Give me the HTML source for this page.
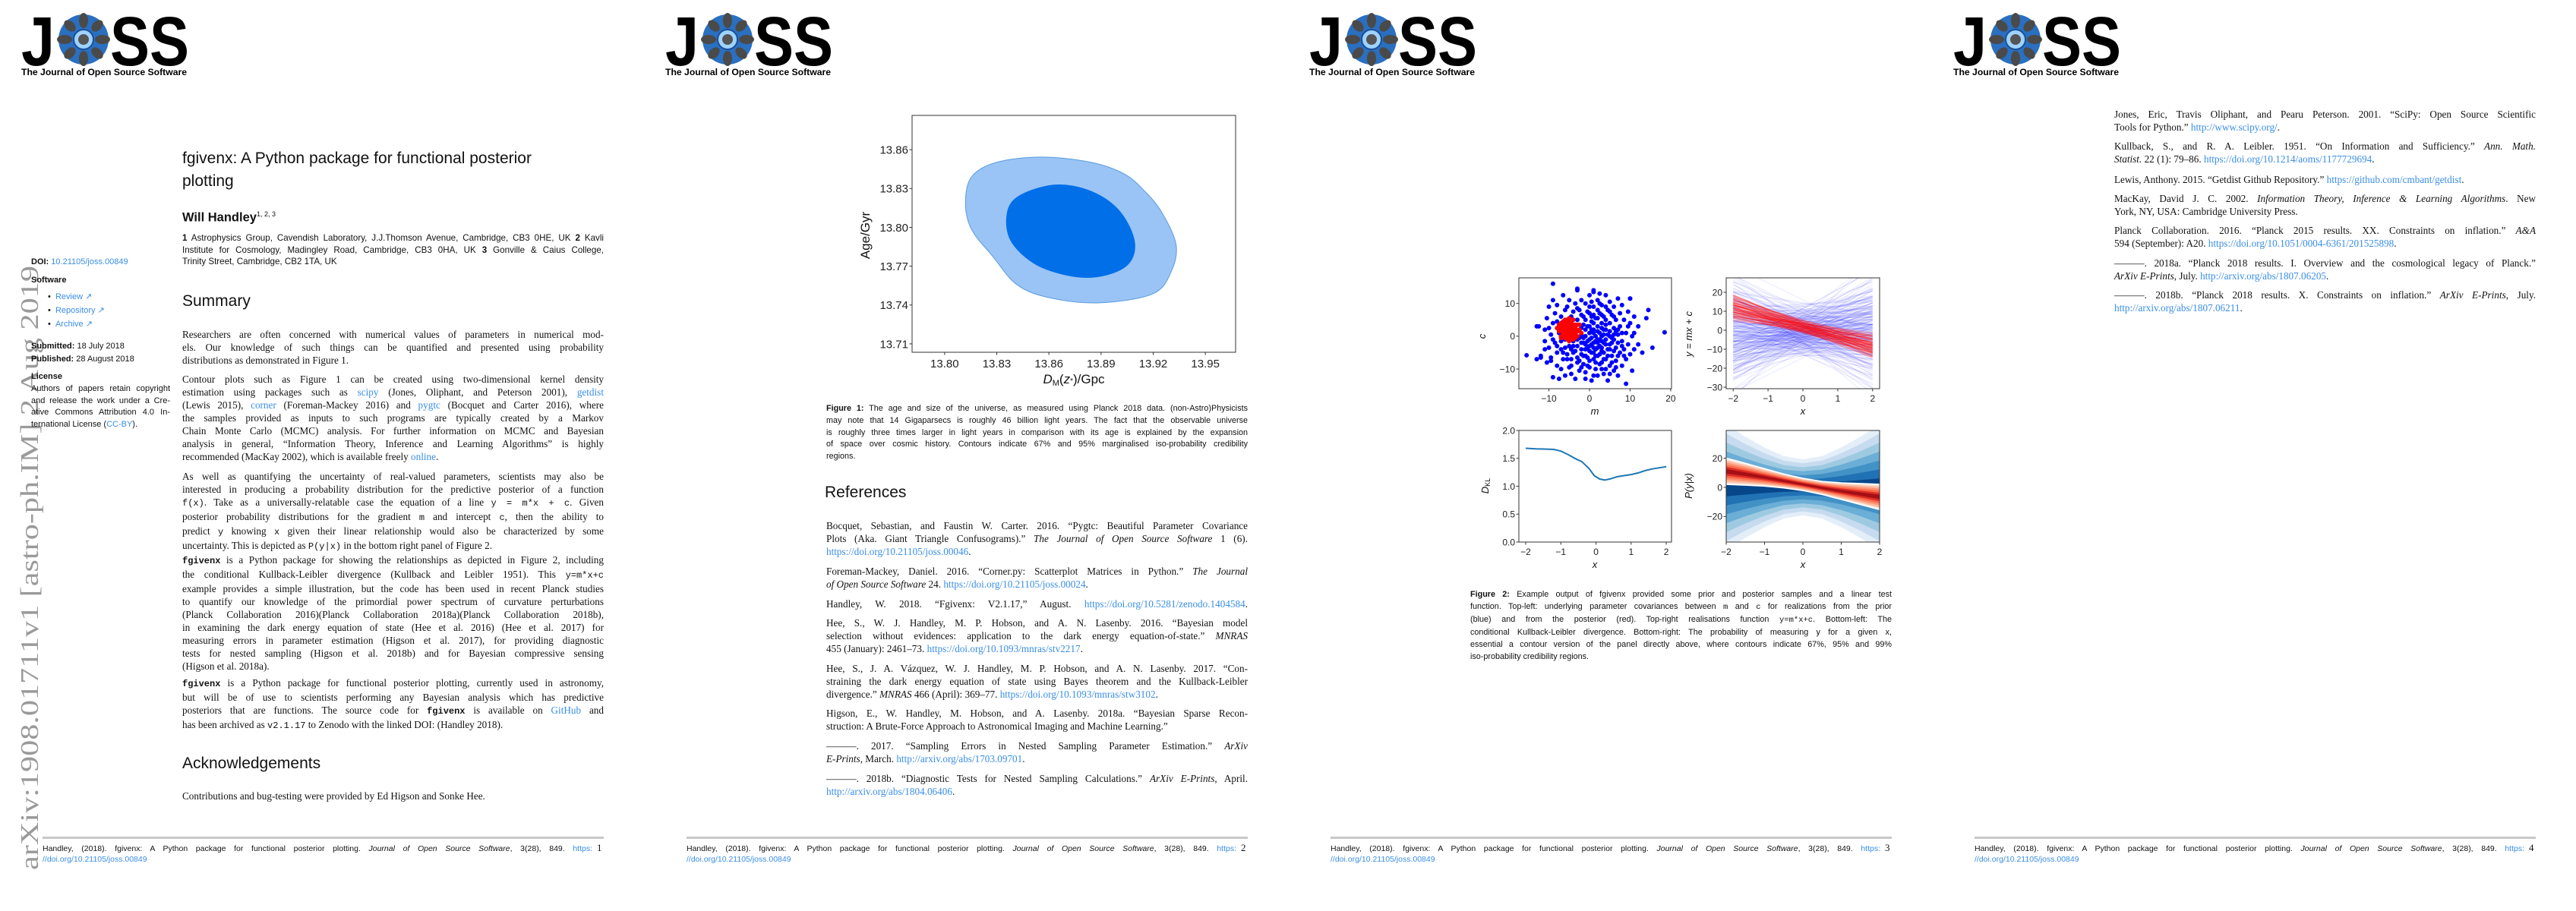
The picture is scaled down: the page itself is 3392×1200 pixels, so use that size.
<!DOCTYPE html>
<html><head><meta charset="utf-8">
<style>
*{margin:0;padding:0;box-sizing:border-box}
html,body{width:3392px;height:1200px;background:#fff;overflow:hidden}
.page{position:absolute;top:0;width:848px;height:1200px;background:#fff}
.abs{position:absolute}
.p{position:absolute;left:240px;width:555px;font:13.2px/17px "Liberation Serif",serif;color:#111}
.ln{text-align:justify;text-align-last:justify;line-height:inherit}
.ln.l{text-align-last:left}
.cap{position:absolute;left:240px;width:555px;font:10.8px/15.8px "Liberation Sans",sans-serif;color:#111}
.sb{position:absolute;left:41px;font:11px/15.5px "Liberation Sans",sans-serif;color:#111}
a,.lk{color:#3a8ee6;text-decoration:none}
.tt{font-family:"Liberation Mono",monospace;font-size:12px}
.h{position:absolute;left:240px;font:21px "Liberation Sans",sans-serif;color:#111}
.foot{position:absolute;left:56px;width:724px;font:10.5px/14px "Liberation Sans",sans-serif;color:#111}
.pn{position:absolute;left:786px;font:13px "Liberation Serif",serif;color:#111}
svg text{font-family:"Liberation Sans",sans-serif}
</style></head><body>

<!-- ================= PAGE 1 ================= -->
<div class="page" style="left:0">
<svg class="abs" style="left:0;top:0" width="848" height="1200">
  <g>
    <text x="28" y="86" font-size="92" font-weight="bold" textLength="44" lengthAdjust="spacingAndGlyphs">J</text>
    <g>
      <circle cx="110" cy="52" r="33" fill="#2a6fc0"/>
      <g fill="#4a4a4a"><ellipse cx="110" cy="27" rx="6" ry="10"/><ellipse cx="110" cy="77" rx="6" ry="10"/><ellipse cx="85" cy="52" rx="10" ry="6"/><ellipse cx="135" cy="52" rx="10" ry="6"/><ellipse cx="92" cy="34" rx="6" ry="9" transform="rotate(-45 92 34)"/><ellipse cx="128" cy="34" rx="6" ry="9" transform="rotate(45 128 34)"/><ellipse cx="92" cy="70" rx="6" ry="9" transform="rotate(45 92 70)"/><ellipse cx="128" cy="70" rx="6" ry="9" transform="rotate(-45 128 70)"/></g>
      <circle cx="110" cy="52" r="13" fill="#9fd3ff" stroke="#1a4f9a" stroke-width="2"/>
      <circle cx="110" cy="52" r="7" fill="#555"/>
    </g>
    <text x="145" y="86" font-size="92" font-weight="bold" textLength="104" lengthAdjust="spacingAndGlyphs">SS</text>
    <text x="28" y="99" font-size="11.5" font-weight="bold" textLength="218" lengthAdjust="spacingAndGlyphs">The Journal of Open Source Software</text>
  </g>
  <text transform="translate(50,1146) rotate(-90)" style="font-family:'Liberation Serif',serif" font-size="34" fill="#9a9a9a" textLength="796" lengthAdjust="spacingAndGlyphs">arXiv:1908.01711v1  [astro-ph.IM]  2 Aug 2019</text>
  <rect x="56" y="1102" width="739" height="3" fill="#c8c8c8"/>
</svg>

<div class="abs" style="left:240px;top:194px;font:21px/30px 'Liberation Sans',sans-serif;color:#111">fgivenx: A Python package for functional posterior<br>plotting</div>
<div class="abs" style="left:240px;top:271px;font:bold 16.5px/22px 'Liberation Sans',sans-serif;color:#111">Will Handley<sup style="font-size:9px;font-weight:normal">1, 2, 3</sup></div>
<div class="cap" style="top:306px;font-size:11.6px;line-height:15.5px">
<div class="ln"><b>1</b> Astrophysics Group, Cavendish Laboratory, J.J.Thomson Avenue, Cambridge, CB3 0HE, UK <b>2</b> Kavli</div>
<div class="ln">Institute for Cosmology, Madingley Road, Cambridge, CB3 0HA, UK <b>3</b> Gonville &amp; Caius College,</div>
<div class="ln l">Trinity Street, Cambridge, CB2 1TA, UK</div>
</div>

<div class="sb" style="top:338px"><b>DOI:</b> <a href="#">10.21105/joss.00849</a></div>
<div class="sb" style="top:362px;font-weight:bold">Software</div>
<div class="sb" style="left:63px;top:384px">•&nbsp;&nbsp;<a href="#">Review ↗</a></div>
<div class="sb" style="left:63px;top:402px">•&nbsp;&nbsp;<a href="#">Repository ↗</a></div>
<div class="sb" style="left:63px;top:420px">•&nbsp;&nbsp;<a href="#">Archive ↗</a></div>
<div class="sb" style="top:449px"><b>Submitted:</b> 18 July 2018</div>
<div class="sb" style="top:466px"><b>Published:</b> 28 August 2018</div>
<div class="sb" style="top:489px;font-weight:bold">License</div>
<div class="sb" style="top:505px;width:183px">
<div class="ln">Authors of papers retain copyright</div>
<div class="ln">and release the work under a Cre-</div>
<div class="ln">ative Commons Attribution 4.0 In-</div>
<div class="ln l">ternational License (<a href="#">CC-BY</a>).</div>
</div>

<div class="h" style="top:385px">Summary</div>

<div class="p" style="top:432px">
<div class="ln">Researchers are often concerned with numerical values of parameters in numerical mod-</div>
<div class="ln">els. Our knowledge of such things can be quantified and presented using probability</div>
<div class="ln l">distributions as demonstrated in Figure 1.</div>
</div>
<div class="p" style="top:491px">
<div class="ln">Contour plots such as Figure 1 can be created using two-dimensional kernel density</div>
<div class="ln">estimation using packages such as <a href="#">scipy</a> (Jones, Oliphant, and Peterson 2001), <a href="#">getdist</a></div>
<div class="ln">(Lewis 2015), <a href="#">corner</a> (Foreman-Mackey 2016) and <a href="#">pygtc</a> (Bocquet and Carter 2016), where</div>
<div class="ln">the samples provided as inputs to such programs are typically created by a Markov</div>
<div class="ln">Chain Monte Carlo (MCMC) analysis. For further information on MCMC and Bayesian</div>
<div class="ln">analysis in general, “Information Theory, Inference and Learning Algorithms” is highly</div>
<div class="ln l">recommended (MacKay 2002), which is available freely <a href="#">online</a>.</div>
</div>
<div class="p" style="top:619px">
<div class="ln">As well as quantifying the uncertainty of real-valued parameters, scientists may also be</div>
<div class="ln">interested in producing a probability distribution for the predictive posterior of a function</div>
<div class="ln"><span class="tt">f(x)</span>. Take as a universally-relatable case the equation of a line <span class="tt">y = m*x + c</span>. Given</div>
<div class="ln">posterior probability distributions for the gradient <span class="tt">m</span> and intercept <span class="tt">c</span>, then the ability to</div>
<div class="ln">predict <span class="tt">y</span> knowing <span class="tt">x</span> given their linear relationship would also be characterized by some</div>
<div class="ln l">uncertainty. This is depicted as <span class="tt">P(y|x)</span> in the bottom right panel of Figure 2.</div>
</div>
<div class="p" style="top:729px">
<div class="ln"><b class="tt">fgivenx</b> is a Python package for showing the relationships as depicted in Figure 2, including</div>
<div class="ln">the conditional Kullback-Leibler divergence (Kullback and Leibler 1951). This <span class="tt">y=m*x+c</span></div>
<div class="ln">example provides a simple illustration, but the code has been used in recent Planck studies</div>
<div class="ln">to quantify our knowledge of the primordial power spectrum of curvature perturbations</div>
<div class="ln">(Planck Collaboration 2016)(Planck Collaboration 2018a)(Planck Collaboration 2018b),</div>
<div class="ln">in examining the dark energy equation of state (Hee et al. 2016) (Hee et al. 2017) for</div>
<div class="ln">measuring errors in parameter estimation (Higson et al. 2017), for providing diagnostic</div>
<div class="ln">tests for nested sampling (Higson et al. 2018b) and for Bayesian compressive sensing</div>
<div class="ln l">(Higson et al. 2018a).</div>
</div>
<div class="p" style="top:891px">
<div class="ln"><b class="tt">fgivenx</b> is a Python package for functional posterior plotting, currently used in astronomy,</div>
<div class="ln">but will be of use to scientists performing any Bayesian analysis which has predictive</div>
<div class="ln">posteriors that are functions. The source code for <b class="tt">fgivenx</b> is available on <a href="#">GitHub</a> and</div>
<div class="ln l">has been archived as <span class="tt">v2.1.17</span> to Zenodo with the linked DOI: (Handley 2018).</div>
</div>

<div class="h" style="top:994px">Acknowledgements</div>
<div class="p" style="top:1040px"><div class="ln l">Contributions and bug-testing were provided by Ed Higson and Sonke Hee.</div></div>

<div class="foot" style="top:1111px"><div class="ln">Handley, (2018). fgivenx: A Python package for functional posterior plotting. <i>Journal of Open Source Software</i>, 3(28), 849. <a href="#">https:</a></div><div class="ln l"><a href="#">//doi.org/10.21105/joss.00849</a></div></div>
<div class="pn" style="top:1109px">1</div>
</div>

<!-- ================= PAGE 2 ================= -->
<div class="page" style="left:848px">
<svg class="abs" style="left:0;top:0" width="848" height="1200">
  <g>
    <text x="28" y="86" font-size="92" font-weight="bold" textLength="44" lengthAdjust="spacingAndGlyphs">J</text>
    <g>
      <circle cx="110" cy="52" r="33" fill="#2a6fc0"/>
      <g fill="#4a4a4a"><ellipse cx="110" cy="27" rx="6" ry="10"/><ellipse cx="110" cy="77" rx="6" ry="10"/><ellipse cx="85" cy="52" rx="10" ry="6"/><ellipse cx="135" cy="52" rx="10" ry="6"/><ellipse cx="92" cy="34" rx="6" ry="9" transform="rotate(-45 92 34)"/><ellipse cx="128" cy="34" rx="6" ry="9" transform="rotate(45 128 34)"/><ellipse cx="92" cy="70" rx="6" ry="9" transform="rotate(45 92 70)"/><ellipse cx="128" cy="70" rx="6" ry="9" transform="rotate(-45 128 70)"/></g>
      <circle cx="110" cy="52" r="13" fill="#9fd3ff" stroke="#1a4f9a" stroke-width="2"/>
      <circle cx="110" cy="52" r="7" fill="#555"/>
    </g>
    <text x="145" y="86" font-size="92" font-weight="bold" textLength="104" lengthAdjust="spacingAndGlyphs">SS</text>
    <text x="28" y="99" font-size="11.5" font-weight="bold" textLength="218" lengthAdjust="spacingAndGlyphs">The Journal of Open Source Software</text>
  </g>
  <g id="fig1"></g>
  <rect x="56" y="1102" width="739" height="3" fill="#c8c8c8"/>
</svg>
<div class="cap" style="top:531px">
<div class="ln"><b>Figure 1:</b> The age and size of the universe, as measured using Planck 2018 data. (non-Astro)Physicists</div>
<div class="ln">may note that 14 Gigaparsecs is roughly 46 billion light years. The fact that the observable universe</div>
<div class="ln">is roughly three times larger in light years in comparison with its age is explained by the expansion</div>
<div class="ln">of space over cosmic history. Contours indicate 67% and 95% marginalised iso-probability credibility</div>
<div class="ln l">regions.</div>
</div>
<div class="h" style="top:637px;left:238px">References</div>
<div class="p" style="top:684px">
<div class="ln">Bocquet, Sebastian, and Faustin W. Carter. 2016. “Pygtc: Beautiful Parameter Covariance</div>
<div class="ln">Plots (Aka. Giant Triangle Confusograms).” <i>The Journal of Open Source Software</i> 1 (6).</div>
<div class="ln l"><a href="#">https://doi.org/10.21105/joss.00046</a>.</div></div>
<div class="p" style="top:744px">
<div class="ln">Foreman-Mackey, Daniel. 2016. “Corner.py: Scatterplot Matrices in Python.” <i>The Journal</i></div>
<div class="ln l"><i>of Open Source Software</i> 24. <a href="#">https://doi.org/10.21105/joss.00024</a>.</div></div>
<div class="p" style="top:787px">
<div class="ln">Handley, W. 2018. “Fgivenx: V2.1.17,” August. <a href="#">https://doi.org/10.5281/zenodo.1404584</a>.</div></div>
<div class="p" style="top:812px">
<div class="ln">Hee, S., W. J. Handley, M. P. Hobson, and A. N. Lasenby. 2016. “Bayesian model</div>
<div class="ln">selection without evidences: application to the dark energy equation-of-state.” <i>MNRAS</i></div>
<div class="ln l">455 (January): 2461–73. <a href="#">https://doi.org/10.1093/mnras/stv2217</a>.</div></div>
<div class="p" style="top:872px">
<div class="ln">Hee, S., J. A. Vázquez, W. J. Handley, M. P. Hobson, and A. N. Lasenby. 2017. “Con-</div>
<div class="ln">straining the dark energy equation of state using Bayes theorem and the Kullback-Leibler</div>
<div class="ln l">divergence.” <i>MNRAS</i> 466 (April): 369–77. <a href="#">https://doi.org/10.1093/mnras/stw3102</a>.</div></div>
<div class="p" style="top:931px">
<div class="ln">Higson, E., W. Handley, M. Hobson, and A. Lasenby. 2018a. “Bayesian Sparse Recon-</div>
<div class="ln l">struction: A Brute-Force Approach to Astronomical Imaging and Machine Learning.”</div></div>
<div class="p" style="top:974px">
<div class="ln">———. 2017. “Sampling Errors in Nested Sampling Parameter Estimation.” <i>ArXiv</i></div>
<div class="ln l"><i>E-Prints</i>, March. <a href="#">http://arxiv.org/abs/1703.09701</a>.</div></div>
<div class="p" style="top:1017px">
<div class="ln">———. 2018b. “Diagnostic Tests for Nested Sampling Calculations.” <i>ArXiv E-Prints</i>, April.</div>
<div class="ln l"><a href="#">http://arxiv.org/abs/1804.06406</a>.</div></div>
<div class="foot" style="top:1111px"><div class="ln">Handley, (2018). fgivenx: A Python package for functional posterior plotting. <i>Journal of Open Source Software</i>, 3(28), 849. <a href="#">https:</a></div><div class="ln l"><a href="#">//doi.org/10.21105/joss.00849</a></div></div>
<div class="pn" style="top:1109px">2</div>
</div>

<!-- ================= PAGE 3 ================= -->
<div class="page" style="left:1696px">
<svg class="abs" style="left:0;top:0" width="848" height="1200">
  <g>
    <text x="28" y="86" font-size="92" font-weight="bold" textLength="44" lengthAdjust="spacingAndGlyphs">J</text>
    <g>
      <circle cx="110" cy="52" r="33" fill="#2a6fc0"/>
      <g fill="#4a4a4a"><ellipse cx="110" cy="27" rx="6" ry="10"/><ellipse cx="110" cy="77" rx="6" ry="10"/><ellipse cx="85" cy="52" rx="10" ry="6"/><ellipse cx="135" cy="52" rx="10" ry="6"/><ellipse cx="92" cy="34" rx="6" ry="9" transform="rotate(-45 92 34)"/><ellipse cx="128" cy="34" rx="6" ry="9" transform="rotate(45 128 34)"/><ellipse cx="92" cy="70" rx="6" ry="9" transform="rotate(45 92 70)"/><ellipse cx="128" cy="70" rx="6" ry="9" transform="rotate(-45 128 70)"/></g>
      <circle cx="110" cy="52" r="13" fill="#9fd3ff" stroke="#1a4f9a" stroke-width="2"/>
      <circle cx="110" cy="52" r="7" fill="#555"/>
    </g>
    <text x="145" y="86" font-size="92" font-weight="bold" textLength="104" lengthAdjust="spacingAndGlyphs">SS</text>
    <text x="28" y="99" font-size="11.5" font-weight="bold" textLength="218" lengthAdjust="spacingAndGlyphs">The Journal of Open Source Software</text>
  </g>
  <defs>
    <clipPath id="cTL"><rect x="304" y="366" width="201" height="146"/></clipPath>
    <clipPath id="cTR"><rect x="577" y="366" width="202" height="146"/></clipPath>
    <clipPath id="cBL"><rect x="304" y="567" width="201" height="147"/></clipPath>
    <clipPath id="cBR"><rect x="577" y="567" width="202" height="147"/></clipPath>
  </defs>
  <g id="fig2"></g>
  <rect x="56" y="1102" width="739" height="3" fill="#c8c8c8"/>
</svg>
<div class="cap" style="top:775px;line-height:16px">
<div class="ln"><b>Figure 2:</b> Example output of fgivenx provided some prior and posterior samples and a linear test</div>
<div class="ln">function. Top-left: underlying parameter covariances between <span class="tt" style="font-size:10.5px">m</span> and <span class="tt" style="font-size:10.5px">c</span> for realizations from the prior</div>
<div class="ln">(blue) and from the posterior (red). Top-right realisations function <span class="tt" style="font-size:10.5px">y=m*x+c</span>. Bottom-left: The</div>
<div class="ln">conditional Kullback-Leibler divergence. Bottom-right: The probability of measuring y for a given x,</div>
<div class="ln">essential a contour version of the panel directly above, where contours indicate 67%, 95% and 99%</div>
<div class="ln l">iso-probability credibility regions.</div>
</div>
<div class="foot" style="top:1111px"><div class="ln">Handley, (2018). fgivenx: A Python package for functional posterior plotting. <i>Journal of Open Source Software</i>, 3(28), 849. <a href="#">https:</a></div><div class="ln l"><a href="#">//doi.org/10.21105/joss.00849</a></div></div>
<div class="pn" style="top:1109px">3</div>
</div>

<!-- ================= PAGE 4 ================= -->
<div class="page" style="left:2544px">
<svg class="abs" style="left:0;top:0" width="848" height="1200">
  <g>
    <text x="28" y="86" font-size="92" font-weight="bold" textLength="44" lengthAdjust="spacingAndGlyphs">J</text>
    <g>
      <circle cx="110" cy="52" r="33" fill="#2a6fc0"/>
      <g fill="#4a4a4a"><ellipse cx="110" cy="27" rx="6" ry="10"/><ellipse cx="110" cy="77" rx="6" ry="10"/><ellipse cx="85" cy="52" rx="10" ry="6"/><ellipse cx="135" cy="52" rx="10" ry="6"/><ellipse cx="92" cy="34" rx="6" ry="9" transform="rotate(-45 92 34)"/><ellipse cx="128" cy="34" rx="6" ry="9" transform="rotate(45 128 34)"/><ellipse cx="92" cy="70" rx="6" ry="9" transform="rotate(45 92 70)"/><ellipse cx="128" cy="70" rx="6" ry="9" transform="rotate(-45 128 70)"/></g>
      <circle cx="110" cy="52" r="13" fill="#9fd3ff" stroke="#1a4f9a" stroke-width="2"/>
      <circle cx="110" cy="52" r="7" fill="#555"/>
    </g>
    <text x="145" y="86" font-size="92" font-weight="bold" textLength="104" lengthAdjust="spacingAndGlyphs">SS</text>
    <text x="28" y="99" font-size="11.5" font-weight="bold" textLength="218" lengthAdjust="spacingAndGlyphs">The Journal of Open Source Software</text>
  </g>
  <rect x="56" y="1102" width="739" height="3" fill="#c8c8c8"/>
</svg>
<div class="p" style="top:142px">
<div class="ln">Jones, Eric, Travis Oliphant, and Pearu Peterson. 2001. “SciPy: Open Source Scientific</div>
<div class="ln l">Tools for Python.” <a href="#">http://www.scipy.org/</a>.</div></div>
<div class="p" style="top:184px">
<div class="ln">Kullback, S., and R. A. Leibler. 1951. “On Information and Sufficiency.” <i>Ann. Math.</i></div>
<div class="ln l"><i>Statist.</i> 22 (1): 79–86. <a href="#">https://doi.org/10.1214/aoms/1177729694</a>.</div></div>
<div class="p" style="top:228px">
<div class="ln l">Lewis, Anthony. 2015. “Getdist Github Repository.” <a href="#">https://github.com/cmbant/getdist</a>.</div></div>
<div class="p" style="top:253px">
<div class="ln">MacKay, David J. C. 2002. <i>Information Theory, Inference &amp; Learning Algorithms</i>. New</div>
<div class="ln l">York, NY, USA: Cambridge University Press.</div></div>
<div class="p" style="top:295px">
<div class="ln">Planck Collaboration. 2016. “Planck 2015 results. XX. Constraints on inflation.” <i>A&amp;A</i></div>
<div class="ln l">594 (September): A20. <a href="#">https://doi.org/10.1051/0004-6361/201525898</a>.</div></div>
<div class="p" style="top:338px">
<div class="ln">———. 2018a. “Planck 2018 results. I. Overview and the cosmological legacy of Planck.”</div>
<div class="ln l"><i>ArXiv E-Prints</i>, July. <a href="#">http://arxiv.org/abs/1807.06205</a>.</div></div>
<div class="p" style="top:380px">
<div class="ln">———. 2018b. “Planck 2018 results. X. Constraints on inflation.” <i>ArXiv E-Prints</i>, July.</div>
<div class="ln l"><a href="#">http://arxiv.org/abs/1807.06211</a>.</div></div>
<div class="foot" style="top:1111px"><div class="ln">Handley, (2018). fgivenx: A Python package for functional posterior plotting. <i>Journal of Open Source Software</i>, 3(28), 849. <a href="#">https:</a></div><div class="ln l"><a href="#">//doi.org/10.21105/joss.00849</a></div></div>
<div class="pn" style="top:1109px">4</div>
</div>

<script>
// ---------- Figure 1 data ----------
const dmTicks = [13.80, 13.83, 13.86, 13.89, 13.92, 13.95];
const ageTicks = [13.71, 13.74, 13.77, 13.80, 13.83, 13.86];
const outer95X = [13.8120,13.8155,13.8298,13.8559,13.8844,13.9034,13.9153,13.9248,13.9331,13.9307,13.9200,13.8892,13.8607,13.8417,13.8274,13.8155];
const outer95Y = [13.8187,13.8390,13.8502,13.8543,13.8502,13.8412,13.8277,13.8119,13.7872,13.7669,13.7488,13.7417,13.7455,13.7556,13.7781,13.7984];
const inner67X = [13.8357,13.8417,13.8630,13.8844,13.9010,13.9094,13.9034,13.8820,13.8559,13.8393];
const inner67Y = [13.8074,13.8232,13.8327,13.8277,13.8119,13.7872,13.7691,13.7613,13.7691,13.7872];

// ---------- Figure 2 data ----------
const priorSamples = [[-15.5,-5.8],[-13,-7],[-12.5,3],[-12,-6.5],[-11,2],[-11,-1.5],[-10.5,5.5],[-10.5,-8],[-10,9],[-10,-3.5],[-9.5,0.5],[-9.5,-7.5],[-9,11],[-9,4],[-9,-12.5],[-8.5,7],[-8.5,-2],[-8,-5],[-8,9.5],[-8,-9],[-7.5,1],[-7.5,-13],[-7,6],[-7,-4],[-7,-10],[-6.5,12.5],[-6.5,-7],[-6,-1],[-6,-12],[-6,8],[-5.5,-5.5],[-5.5,9],[-5,-3],[-5,-9.5],[-5,11],[-4.5,-7],[-4.5,-11.5],[-4,-1.5],[-4,7.5],[-4,-5],[-3.5,-13],[-3.5,10],[-3,-3],[-3,14.5],[-3,-8],[-3,5],[-2.5,-0.5],[-2.5,-10.5],[-2.5,8],[-2,-5.5],[-2,2.5],[-2,11],[-1.5,-2],[-1.5,-8.5],[-1.5,6],[-1,0],[-1,-11],[-1,-4],[-1,10],[-0.5,3],[-0.5,-6.5],[-0.5,-1.5],[0,7],[0,-3],[0,-9.5],[0,1],[0,12.5],[0.5,-5],[0.5,4.5],[0.5,-0.5],[0.5,-13.5],[1,2],[1,-7],[1,9],[1,-2],[1,13.5],[1.5,5.5],[1.5,-4],[1.5,-10],[1.5,0],[2,11],[2,-1],[2,3],[2,-6],[2,-12],[2.5,7],[2.5,-3],[2.5,1],[2.5,13],[3,-8],[3,4],[3,-1.5],[3,9.5],[3.5,-5],[3.5,0.5],[3.5,-11.5],[3.5,6],[4,-2.5],[4,12.5],[4,2],[4,-7],[4.5,8],[4.5,-4],[4.5,-13.5],[5,0],[5,4],[5,-9],[5,10.5],[5.5,-2],[5.5,6.5],[5.5,-6],[6,2.5],[6,-10.5],[6,9],[6.5,-3.5],[6.5,5],[6.5,-7.5],[7,0.5],[7,11.5],[7,-12],[7.5,-5],[7.5,7],[7.5,3],[8,-1.5],[8,-9],[8,9.5],[8.5,-4],[8.5,5],[9,1],[9,-7],[9,-14.5],[9.5,7.5],[9.5,-2.5],[10,4],[10,-5.5],[10,11.5],[10.5,-10.5],[10.5,0],[11,6],[11,-4],[12,-2.5],[12,3],[13,-5],[14,5.5],[14.5,8],[15.5,-3.5],[18.5,1.2],[-13,3],[-12,-6],[-9.5,-6.5],[-7,3],[-3,-6.5],[0,-7.5],[2,5.5],[4,-10],[6,-1],[-1.5,3.5],[3,2.5],[1,-3.5],[-2,-2],[0.5,6],[2.5,-8.5],[-4.5,-4],[5,-4],[1.5,-6],[-0.5,-9],[7,-2],[2,-3.5],[0,-1],[3.5,-2],[1,1],[-1,-6],[-9,16],[-3,14],[1,14],[10,11.5],
 [-8,-3],[-7,-1.5],[-6,-3.5],[-5,-1],[-4,-3],[-3,-1],[-2,-4],[-1,-2.5],[0,-4.5],[1,-5],[2,-2],[3,-3.5],[4,-1],[5,-2.5],[6,-4.5],[7,-6],[8,-3],[-1,2],[0,3],[1,4],[2,1.5],[3,0],[4,3.5],[5,1.5],[6,0.5],[7,2],[8,1],[-2,0.5],[-3,1.5],[0.5,2],[1.5,-1.5],[2.5,-1],[3.5,2],[4.5,0.5],[5.5,-0.5],[6.5,1.5],[-0.5,-3.5],[0.5,-2.5],[1.5,-8],[2.5,-5.5],[3.5,-7],[4.5,-6],[5.5,-8],[6.5,-9.5],[-1.5,-6],[-2.5,-7.5],[-3.5,-4.5],[-4.5,-9],[-5.5,-7],[-6.5,-5],[0,9],[1,6.5],[2,8],[3,6.5],[4,5],[5,7.5],[6,6],[-1,5],[-2,6.5],[-3,8.5],[-4.5,6],[-5.5,5],[1,-12],[3,-10],[5,-11.5],[-2,-9.5],[-1,-13],[8.5,-6],[9.5,3],[11,1],[-8,4.5],[-9,-1],[-10,2.5],[-11,-4],[0.5,10.5],[2.5,10],[4,9],[-0.5,7.5],[3,-4.5],[-1.5,-0.5]];
const posteriorSamples = [[-5,2],[-6,2.5],[-4,1.5],[-5.5,3.5],[-4.5,0.5],[-6.5,1],[-3.5,2.5],[-5,4.5],[-5,-0.5],[-7,2.5],[-3,1.5],[-6,4],[-4,3.5],[-6,0],[-4,0],[-5.5,1.5],[-4.5,2.5],[-6.5,3],[-3.5,0.5],[-7.5,1.5],[-2.5,2],[-5,5.5],[-5.5,-1],[-4.5,4],[-6,-0.5],[-3,3.5],[-7,4],[-7,0],[-4,5],[-5,1],[-5.5,2.5],[-4.5,1.5],[-6.5,2],[-3.5,3.5],[-5,3],[-6,1.5],[-4,2.5],[-2,1],[-8,2.5],[-5,-1.5],[-4.5,-0.5],[-6.5,4.5],[-3.5,-0.5],[-2.5,3.5],[-7.5,3.5],[-6,5],[-4,-1],[-5.5,0.5],[-3,0],[-7,-0.5]];
const dklX = [-2,-1.7,-1.4,-1.2,-1,-0.8,-0.6,-0.4,-0.2,-0.05,0.1,0.25,0.4,0.6,0.8,1.0,1.2,1.4,1.6,1.8,2];
const dklY = [1.68,1.67,1.665,1.66,1.63,1.57,1.50,1.44,1.32,1.19,1.13,1.11,1.13,1.17,1.19,1.21,1.24,1.28,1.31,1.33,1.35];
const gridX = [-2,-1.5,-1,-0.5,0,0.5,1,1.5,2];
const priorMean = [0,0,0,0,0,0,0,0,0];
const priorSigma = [12.3,9.9,7.8,6.1,5.5,6.1,7.8,9.9,12.3];
const postMean = [11,9,6.8,4.4,2,-0.4,-2.6,-4.6,-6.6];
const postSigma = [3,2.5,2,1.6,1.4,1.5,1.9,2.4,2.9];
const priorLevels = [3.5,3,2.5,2,1.5,1,0.5];
const postLevels = [3,2.5,2,1.5,1,0.5];
const tlXTicks = [-10,0,10,20], tlYTicks = [-10,0,10];
const trXTicks = [-2,-1,0,1,2], trYTicks = [-30,-20,-10,0,10,20];
const blYTicks = [0.0,0.5,1.0,1.5,2.0];
const brYTicks = [-20,0,20];

const NS = 'http://www.w3.org/2000/svg';
function lin(d0,d1,r0,r1){return v=>r0+(v-d0)*(r1-r0)/(d1-d0);}
function mk(tag,attrs,parent){const e=document.createElementNS(NS,tag);for(const k in attrs)e.setAttribute(k,attrs[k]);parent.appendChild(e);return e;}
function closedCurve(pts){
  const n=pts.length;let d='M'+pts[0][0].toFixed(1)+','+pts[0][1].toFixed(1);
  for(let i=0;i<n;i++){const p0=pts[(i-1+n)%n],p1=pts[i],p2=pts[(i+1)%n],p3=pts[(i+2)%n];
    const c1=[p1[0]+(p2[0]-p0[0])/6,p1[1]+(p2[1]-p0[1])/6],c2=[p2[0]-(p3[0]-p1[0])/6,p2[1]-(p3[1]-p1[1])/6];
    d+='C'+c1[0].toFixed(1)+','+c1[1].toFixed(1)+' '+c2[0].toFixed(1)+','+c2[1].toFixed(1)+' '+p2[0].toFixed(1)+','+p2[1].toFixed(1);}
  return d+'Z';}
function axes(g,box,xs,ys,xt,yt,fmtX,fmtY,fs){
  const fr=mk('rect',{x:box[0],y:box[1],width:box[2]-box[0],height:box[3]-box[1],fill:'none',stroke:'#333','stroke-width':1},g);
  
  
  xt.forEach(v=>{const x=xs(v);
    const t=mk('line',{x1:x,x2:x,y1:box[3],y2:box[3]+3.5,stroke:'#333'},g);
    
    
    const l=mk('text',{x:x,y:box[3]+5+fs,'font-size':fs,'text-anchor':'middle',fill:'#222'},g);
    
    
    l.textContent=fmtX(v);});
  yt.forEach(v=>{const y=ys(v);
    const t=mk('line',{x1:box[0]-3.5,x2:box[0],y1:y,y2:y,stroke:'#333'},g);
    
    
    const l=mk('text',{x:box[0]-5,y:y+fs*0.36,'font-size':fs,'text-anchor':'end',fill:'#222'},g);
    
    
    l.textContent=fmtY(v);});
}
const mf=v=>(v<0?'\u2212':'')+Math.abs(v);

// ---- Figure 1 ----
(function(){
  const g=document.getElementById('fig1');
  const xs=lin(13.7813,13.9674,353,779), ys=lin(13.7035,13.8865,464,152);
  const o=mk('path',{d:closedCurve(outer95X.map((v,i)=>[xs(v),ys(outer95Y[i])])),fill:'#99c4f5',stroke:'#5b9bdf','stroke-width':1},g);
  
  
  const inn=mk('path',{d:closedCurve(inner67X.map((v,i)=>[xs(v),ys(inner67Y[i])])),fill:'#006fe8',stroke:'#006fe8','stroke-width':1},g);
  
  
  axes(g,[353,152,779,464],xs,ys,dmTicks,ageTicks,v=>v.toFixed(2),v=>v.toFixed(2),15);
  const yl=mk('text',{transform:'translate(297,310) rotate(-90)','font-size':17,'text-anchor':'middle',fill:'#111'},g);
  
  
  yl.textContent='Age/Gyr';
  const xl=mk('text',{x:566,y:505,'font-size':17,'text-anchor':'middle',fill:'#111'},g);
  
  
  xl.innerHTML='<tspan font-style="italic">D</tspan><tspan font-size="11" dy="3">M</tspan><tspan dy="-3">(</tspan><tspan font-style="italic">z</tspan><tspan font-size="10">*</tspan><tspan>)/Gpc</tspan>';
})();

// ---- Figure 2 ----
(function(){
  const root=document.getElementById('fig2');
  function label(txt,x,y,rot,name){
    const t=mk('text',{x:rot?0:x,y:rot?0:y,'font-size':13,'font-style':'italic','text-anchor':'middle',fill:'#111'},root);
    if(rot)t.setAttribute('transform','translate('+x+','+y+') rotate(-90)');
    
    
    t.textContent=txt;return t;}
  // TL scatter
  {const box=[304,366,505,512],xs=lin(-17.4,20.2,304,505),ys=lin(-16,17.8,512,366);
   const g=mk('g',{'clip-path':'url(#cTL)'},root);
   
   
   priorSamples.forEach(p=>{const c=mk('circle',{cx:xs(p[0]),cy:ys(p[1]),r:3,fill:'#0000ff'},g);
     
     });
   posteriorSamples.forEach(p=>{const c=mk('circle',{cx:xs(p[0]),cy:ys(p[1]),r:3,fill:'#ff0000'},g);
     
     });
   axes(root,box,xs,ys,tlXTicks,tlYTicks,mf,mf,12);
   label('m',404,546,false,'x-axis-title-m');label('c',260,443,true,'y-axis-title-c');}
  // TR lines
  {const box=[577,366,779,512],xs=lin(-2.2,2.2,577,779),ys=lin(-30.8,27.6,512,366);
   const g=mk('g',{'clip-path':'url(#cTR)'},root);
   
   
   priorSamples.forEach(p=>{const l=mk('line',{x1:xs(-2),x2:xs(2),y1:ys(p[0]*-2+p[1]),y2:ys(p[0]*2+p[1]),stroke:'#0000ff','stroke-opacity':0.09,'stroke-width':1},g);
     
     });
   posteriorSamples.forEach(p=>{const l=mk('line',{x1:xs(-2),x2:xs(2),y1:ys(p[0]*-2+p[1]),y2:ys(p[0]*2+p[1]),stroke:'#ff0000','stroke-opacity':0.25,'stroke-width':1.5},g);
     
     });
   axes(root,box,xs,ys,trXTicks,trYTicks,mf,mf,12);
   label('x',678,546,false,'x-axis-title-x');label('y = mx + c',532,440,true,'y-axis-title-ymxc');}
  // BL DKL
  {const box=[304,567,505,714],xs=lin(-2.195,2.15,304,505),ys=lin(0,2,714,567);
   const g=mk('g',{'clip-path':'url(#cBL)'},root);
   const pl=mk('polyline',{points:dklX.map((v,i)=>xs(v).toFixed(1)+','+ys(dklY[i]).toFixed(1)).join(' '),fill:'none',stroke:'#1f77b4','stroke-width':2},g);
   
   
   axes(root,box,xs,ys,trXTicks,blYTicks,mf,v=>v.toFixed(1),12);
   label('x',404,748,false,'x-axis-title-x');
   const yl=label('',264,640,true,'y-axis-title-dkl');yl.innerHTML='D<tspan font-size="9" dy="2" font-style="normal">KL</tspan>';}
  // BR contours
  {const box=[577,567,779,714],xs=lin(-2,2,577,779),ys=lin(-37.5,39,714,567);
   const g=mk('g',{'clip-path':'url(#cBR)'},root);
   const bg=mk('rect',{x:577,y:567,width:202,height:147,fill:'#fff'},g);
   
   
   function band(mean,sig,k){const up=gridX.map((x,i)=>xs(x).toFixed(1)+','+ys(mean[i]+k*sig[i]).toFixed(1));
     const dn=gridX.map((x,i)=>xs(x).toFixed(1)+','+ys(mean[i]-k*sig[i]).toFixed(1)).reverse();return up.concat(dn).join(' ');}
   const bc=['#e3eef9','#c6dbef','#9ecae1','#6baed6','#4292c6','#2171b5','#08468a'];
   priorLevels.forEach((k,i)=>{const pg=mk('polygon',{points:band(priorMean,priorSigma,k),fill:bc[i]},g);
     
     });
   const rc=['#fee5d9','#fcbba1','#fc9272','#fb6a4a','#de2d26','#a50f15'];
   postLevels.forEach((k,i)=>{const pg=mk('polygon',{points:band(postMean,postSigma,k),fill:rc[i],stroke:i===0?'#ffffff':'none','stroke-width':i===0?1.5:0},g);
     
     });
   axes(root,box,xs,ys,trXTicks,brYTicks,mf,mf,12);
   label('x',678,748,false,'x-axis-title-x');label('P(y|x)',532,640,true,'y-axis-title-pyx');}
})();

// ---- fit text lines ----
document.querySelectorAll('.ln').forEach(el=>{
  const lh=parseFloat(getComputedStyle(el).lineHeight)||17;
  if(el.offsetHeight>lh*1.4){
    const target=el.clientWidth;
    el.style.whiteSpace='nowrap';el.style.textAlignLast='left';el.style.textAlign='left';
    el.style.width='max-content';
    const w=el.scrollWidth||el.offsetWidth;
    el.style.transformOrigin='0 0';el.style.transform='scaleX('+(target/w)+')';
  }
});
</script>
</body></html>
